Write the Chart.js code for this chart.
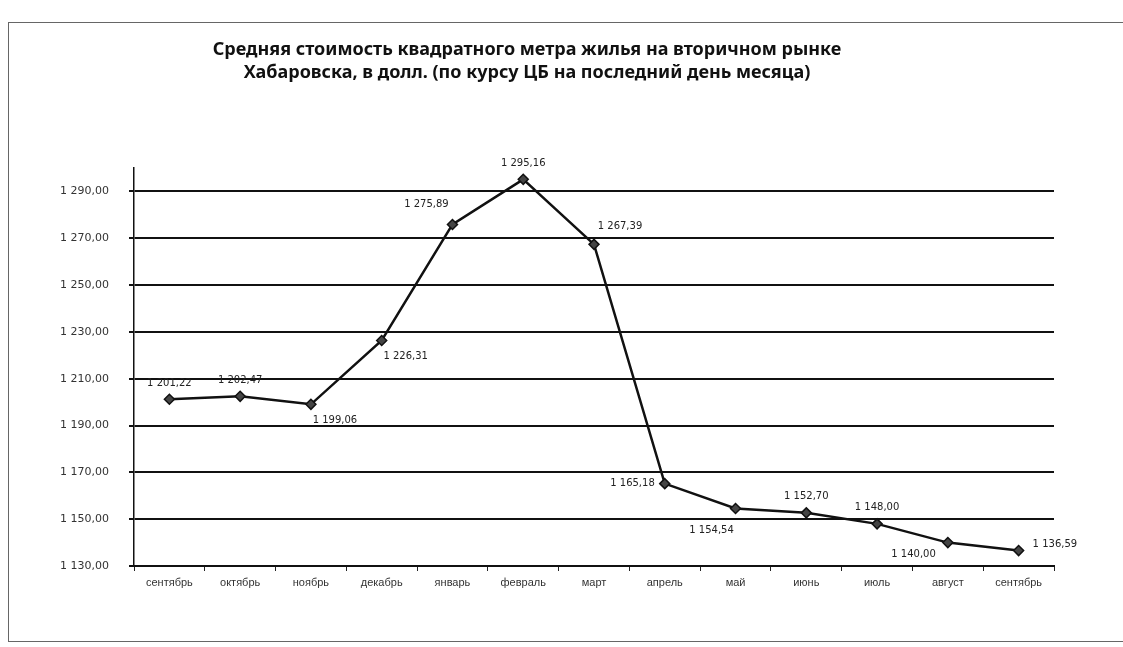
<!DOCTYPE html>
<html>
<head>
<meta charset="utf-8">
<script src="https://cdn.jsdelivr.net/npm/chart.js@4.4.1/dist/chart.umd.min.js"></script>
<style>
  html, body { margin: 0; padding: 0; background: #fff; }
  #wrap { position: relative; width: 1123px; height: 647px; }
  #frame { position: absolute; left: 8px; top: 22px; width: 1130px; height: 618px; border: 1px solid #666; }
</style>
</head>
<body>
<div id="wrap">
  <div id="frame"></div>
  <canvas id="priceChart"></canvas>
</div>
<script>
// Data
const months = ['сентябрь', 'октябрь', 'ноябрь', 'декабрь', 'январь', 'февраль', 'март',
                'апрель', 'май', 'июнь', 'июль', 'август', 'сентябрь'];
const prices = [1201.22, 1202.47, 1199.06, 1226.31, 1275.89, 1295.16, 1267.39,
                1165.18, 1154.54, 1152.70, 1148.00, 1140.00, 1136.59];
const yTicks = [1130, 1150, 1170, 1190, 1210, 1230, 1250, 1270, 1290];
const titleLines = ['Средняя стоимость квадратного метра жилья на вторичном рынке',
                    'Хабаровска, в долл. (по курсу ЦБ на последний день месяца)'];

// where each value label sits relative to its point
const labelPos = ['above', 'above', 'belowRight', 'belowRight', 'aboveLeft', 'above', 'aboveRight',
                  'left', 'belowLeft', 'above', 'above', 'leftBelow', 'right'];

const fmt = v => {
    const parts = v.toFixed(2).split('.');
    return parts[0].replace(/\B(?=(\d{3})+(?!\d))/g, ' ') + ',' + parts[1];
};

// Value labels
const valueLabels = {
    id: 'valueLabels',
    afterDatasetsDraw(chart) {
        const ctx = chart.ctx;
        const meta = chart.getDatasetMeta(0);
        ctx.save();
        ctx.font = '10px "DejaVu Sans"';
        ctx.fillStyle = '#222';
        ctx.textBaseline = 'middle';
        meta.data.forEach((pt, i) => {
            let dx = 0, dy = -16, align = 'center';
            switch (labelPos[i]) {
                case 'belowRight': dx = 24; dy = 16; break;
                case 'aboveLeft': dx = -26; dy = -20; break;
                case 'aboveRight': dx = 26; dy = -18; break;
                case 'left': dx = -10; dy = 0; align = 'right'; break;
                case 'belowLeft': dx = -24; dy = 22; break;
                case 'leftBelow': dx = -12; dy = 12; align = 'right'; break;
                case 'right': dx = 14; dy = -6; align = 'left'; break;
            }
            ctx.textAlign = align;
            ctx.fillText(fmt(prices[i]), pt.x + dx, pt.y + dy);
        });
        ctx.restore();
    }
};

const ctx = document.getElementById('priceChart').getContext('2d');
const priceChart = new Chart(ctx, {
    type: 'line',
    data: {
        labels: months,
        datasets: [{
            data: prices,
            borderColor: '#111',
            borderWidth: 2.5,
            pointStyle: 'rectRot',
            pointRadius: 5,
            pointBackgroundColor: '#444',
            pointBorderColor: '#111',
            pointBorderWidth: 1.5,
            tension: 0
        }]
    },
    options: {
        responsive: true,
        maintainAspectRatio: false,
        animation: false,
        layout: { padding: { left: 0, right: 69, top: 0, bottom: 40 } },
        plugins: {
            legend: { display: false },
            tooltip: { enabled: false },
            title: {
                display: true,
                text: titleLines,
                color: '#111',
                font: { family: '"Noto Sans"', size: 18, weight: 'bold', lineHeight: 1.25 },
                padding: { top: 39, bottom: 84 }
            }
        },
        scales: {
            x: {
                offset: true,
                grid: { display: true, drawOnChartArea: false, drawTicks: true, tickLength: 5, color: '#222', offset: true },
                border: { color: '#111', width: 2 },
                ticks: { color: '#333', font: { family: '"Liberation Sans"', size: 11 }, padding: 5, maxRotation: 0, autoSkip: false },
                afterFit: s => { s.height = 41; }
            },
            y: {
                min: 1130,
                max: 1300,
                grid: { color: '#111', lineWidth: 2, tickLength: 5 },
                border: { color: '#111', width: 1.5 },
                ticks: {
                    color: '#333',
                    font: { family: '"DejaVu Sans"', size: 11 },
                    padding: 20,
                    callback: v => fmt(v)
                },
                afterBuildTicks: s => { s.ticks = yTicks.map(v => ({ value: v })); },
                afterFit: s => { s.width = 134; }
            }
        }
    },
    plugins: [valueLabels]
});
</script>
</body>
</html>
